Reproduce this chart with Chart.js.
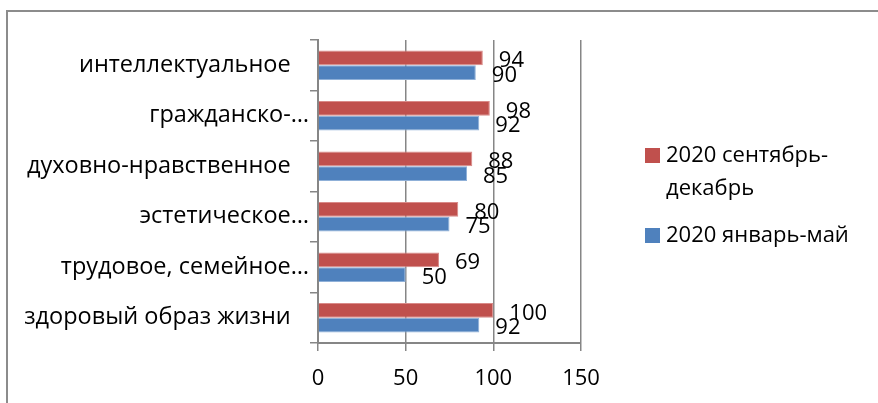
<!DOCTYPE html>
<html>
<head>
<meta charset="utf-8">
<script src="https://cdn.jsdelivr.net/npm/chart.js@4.4.1/dist/chart.umd.min.js"></script>
<style>
    body { margin: 0; background: #fff; overflow: hidden; }
    #wrap { position: relative; width: 878px; height: 403px; }
    #frame { position: absolute; left: 6px; top: 10px; width: 900px; height: 420px;
             border-left: 2px solid #8c8c8c; border-top: 2px solid #8c8c8c; }
    #legend { position: absolute; left: 645px; top: 137px; font-family: "Open Sans", sans-serif;
              font-size: 22px; color: #000; }
    .item { position: absolute; left: 0; width: 230px; }
    .box { position: absolute; left: 0; width: 15px; height: 15px; }
    .txt { position: absolute; left: 21px; line-height: 33px; white-space: nowrap; }
</style>
</head>
<body>
<div id="wrap">
    <div id="frame"></div>
    <canvas id="chart" width="878" height="403"></canvas>
    <div id="legend"></div>
</div>
<script>
const categories = ['интеллектуальное   ', 'гражданско-…', 'духовно-нравственное   ',
    'эстетическое…', 'трудовое, семейное…', 'здоровый образ жизни   '];
const seriesNames = [['2020 сентябрь-', 'декабрь'], ['2020 январь-май']];
const sepDec = [94, 98, 88, 80, 69, 100];
const janMay = [90, 92, 85, 75, 50, 92];
const xTicks = [0, 50, 100, 150];

const colors = ['#C0504D', '#4F81BD'];
const FONT = '"Open Sans", sans-serif';

// подписи значений справа от столбцов
const valueLabels = {
    id: 'valueLabels',
    afterDatasetsDraw(chart) {
        const ctx = chart.ctx;
        ctx.save();
        ctx.font = '22px ' + FONT;
        ctx.fillStyle = '#000';
        ctx.textAlign = 'left';
        ctx.textBaseline = 'middle';
        chart.data.datasets.forEach((ds, i) => {
            chart.getDatasetMeta(i).data.forEach((bar, j) => {
                ctx.fillText(ds.data[j], bar.x + 16, bar.y + 3);
            });
        });
        ctx.restore();
    }
};

const ctx = document.getElementById('chart').getContext('2d');
const chart = new Chart(ctx, {
    type: 'bar',
    data: {
        labels: categories,
        datasets: [{
            label: seriesNames[0].join(' '),
            data: sepDec,
            backgroundColor: colors[0],
            borderColor: '#d98a88',
            borderWidth: 1
        }, {
            label: seriesNames[1].join(' '),
            data: janMay,
            backgroundColor: colors[1],
            borderColor: '#8fb0d8',
            borderWidth: 1
        }]
    },
    options: {
        indexAxis: 'y',
        responsive: false,
        animation: false,
        events: [],
        layout: { padding: { left: 0, right: 297, top: 40, bottom: 0 } },
        datasets: { bar: { categoryPercentage: 0.58, barPercentage: 1 } },
        plugins: { legend: { display: false }, tooltip: { enabled: false } },
        scales: {
            x: {
                min: 0, max: 150,
                afterBuildTicks: (s) => { s.ticks = xTicks.map(v => ({ value: v })); },
                afterFit: (s) => { s.height = 60; },
                grid: { color: '#868686', lineWidth: 1.5, tickLength: 8, drawTicks: true },
                border: { color: '#868686', width: 2 },
                ticks: { font: { family: FONT, size: 22 }, color: '#000', padding: 15 }
            },
            y: {
                afterFit: (s) => { s.width = 318; },
                grid: { offset: true, drawOnChartArea: false, color: '#868686', lineWidth: 1.5, tickLength: 8 },
                border: { color: '#868686', width: 2 },
                ticks: { font: { family: FONT, size: 23.5 }, color: '#000', padding: 1, autoSkip: false }
            }
        }
    },
    plugins: [valueLabels]
});

// легенда справа
const legend = document.getElementById('legend');
const tops = [0, 80];
seriesNames.forEach((name, i) => {
    const item = document.createElement('div');
    item.className = 'item';
    item.style.top = tops[i] + 'px';
    item.innerHTML = '<div class="box" style="top:11px;background:' + colors[i] + '"></div>' +
        '<div class="txt" style="top:0px">' + name.join('<br>') + '</div>';
    legend.appendChild(item);
});
</script>
</body>
</html>
